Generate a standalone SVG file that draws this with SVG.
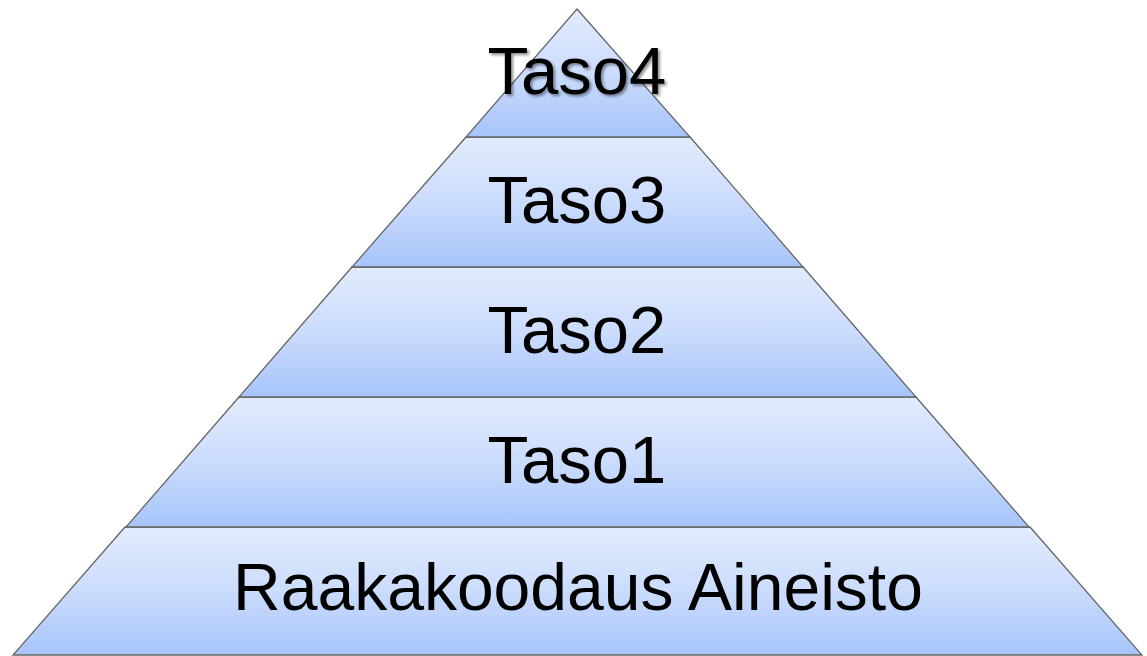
<svg xmlns="http://www.w3.org/2000/svg" width="1147" height="656" viewBox="0 0 1147 656">
  <defs>
    <linearGradient id="band" x1="0" y1="0" x2="0" y2="1">
      <stop offset="0" stop-color="#e1ebfd"/>
      <stop offset="0.5" stop-color="#cbdcfc"/>
      <stop offset="1" stop-color="#a7c4fa"/>
    </linearGradient>
    <filter id="shadow" x="-10%" y="-20%" width="120%" height="150%">
      <feGaussianBlur in="SourceAlpha" stdDeviation="1.5"/>
      <feOffset dx="2" dy="2" result="b"/>
      <feComponentTransfer><feFuncA type="linear" slope="0.45"/></feComponentTransfer>
      <feMerge><feMergeNode/><feMergeNode in="SourceGraphic"/></feMerge>
    </filter>
  </defs>
  <style>
    .layer { fill: url(#band); stroke: #666666; stroke-width: 1.3; stroke-linejoin: miter; }
    .label { font-family: "Liberation Sans", Arial, sans-serif; font-size: 66px; fill: #000; text-anchor: middle; }
    .name { font-size: 67px; }
  </style>
  <rect width="1147" height="656" fill="#ffffff"/>

  <g id="raakakoodaus">
    <polygon class="layer" points="125,527 1030,527 1142,655 13,655"/>
    <text class="label" x="578" y="610">Raakakoodaus Aineisto</text>
  </g>
  <g id="taso1">
    <polygon class="layer" points="239,397 916,397 1029,527 126,527"/>
    <text class="label name" x="577" y="483">Taso1</text>
  </g>
  <g id="taso2">
    <polygon class="layer" points="352,267 803,267 916,397 239,397"/>
    <text class="label name" x="577" y="353">Taso2</text>
  </g>
  <g id="taso3">
    <polygon class="layer" points="466,137 690,137 803,267 352,267"/>
    <text class="label name" x="577" y="223">Taso3</text>
  </g>
  <g id="taso4">
    <polygon class="layer" points="577,9 690,137 466,137"/>
    <text class="label name" x="577" y="94" filter="url(#shadow)">Taso4</text>
  </g>
  <g id="connectors"/>
</svg>
